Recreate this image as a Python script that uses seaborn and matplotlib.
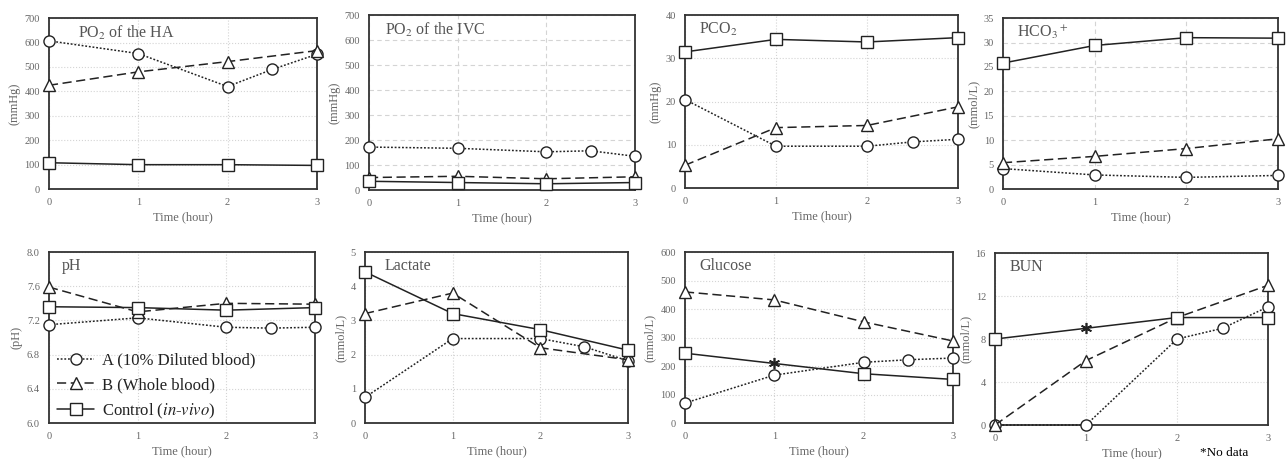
import numpy as np
import pandas as pd
import matplotlib
matplotlib.use("Agg")
import matplotlib.pyplot as plt
import seaborn as sns

# time points (A has an extra sample at 2.5 h)
time_a = [0, 1, 2, 2.5, 3]
time_bc = [0, 1, 2, 3]

# PO2 of the HA (mmHg)
ha_a = [607, 555, 420, 490, 552]
ha_b = [425, 480, 522, 567]
ha_c = [108, 100, 100, 97]

# PO2 of the IVC (mmHg)
ivc_a = [172, 167, 153, 157, 135]
ivc_b = [50, 55, 45, 53]
ivc_c = [35, 30, 25, 30]

# PCO2 (mmHg)
pco2_a = [20.5, 9.7, 9.7, 10.7, 11.3]
pco2_b = [5.3, 14.0, 14.5, 18.8]
pco2_c = [31.5, 34.4, 33.8, 34.8]

# HCO3+ (mmol/L) - no 2.5 h sample for A
hco3_a = [4.2, 2.9, 2.4, np.nan, 2.8]
hco3_b = [5.4, 6.7, 8.3, 10.3]
hco3_c = [25.8, 29.4, 31.0, 30.9]

# pH
ph_a = [7.15, 7.23, 7.12, 7.11, 7.12]
ph_b = [7.59, 7.30, 7.40, 7.39]
ph_c = [7.36, 7.35, 7.32, 7.35]

# Lactate (mmol/L)
lac_a = [0.75, 2.47, 2.47, 2.23, 1.82]
lac_b = [3.2, 3.8, 2.2, 1.85]
lac_c = [4.42, 3.2, 2.73, 2.13]

# Glucose (mmol/L) - control missing at 1 h (shown as *)
glu_a = [70, 168, 213, 222, 228]
glu_b = [460, 432, 355, 288]
glu_c = [245, np.nan, 173, 153]
glu_nodata = [1, 210]

# BUN (mmol/L) - control missing at 1 h (shown as *)
bun_a = [0, 0, 8, 9, 11]
bun_b = [0, 6, 10, 13]
bun_c = [8, np.nan, 10, 10]
bun_nodata = [1, 9]

panels = [
    ("PO$_2$ of the HA", "(mmHg)", ha_a, ha_b, ha_c, [0, 700], np.arange(0, 701, 100), "%d", None),
    ("PO$_2$ of the IVC", "(mmHg)", ivc_a, ivc_b, ivc_c, [0, 700], np.arange(0, 701, 100), "%d", None),
    ("PCO$_2$", "(mmHg)", pco2_a, pco2_b, pco2_c, [0, 40], np.arange(0, 41, 10), "%d", None),
    ("HCO$_3$$^+$", "(mmol/L)", hco3_a, hco3_b, hco3_c, [0, 35], np.arange(0, 36, 5), "%d", None),
    ("pH", "(pH)", ph_a, ph_b, ph_c, [6.0, 8.0], np.arange(6.0, 8.01, 0.4), "%.1f", None),
    ("Lactate", "(mmol/L)", lac_a, lac_b, lac_c, [0, 5], np.arange(0, 6, 1), "%d", None),
    ("Glucose", "(mmol/L)", glu_a, glu_b, glu_c, [0, 600], np.arange(0, 601, 100), "%d", glu_nodata),
    ("BUN", "(mmol/L)", bun_a, bun_b, bun_c, [0, 16], np.arange(0, 17, 4), "%d", bun_nodata),
]

positions = [
    [0.038, 0.588, 0.208, 0.3725],
    [0.2865, 0.586, 0.2065, 0.381],
    [0.5318, 0.590, 0.212, 0.377],
    [0.7787, 0.588, 0.2135, 0.3725],
    [0.038, 0.0784, 0.2065, 0.3725],
    [0.2834, 0.0784, 0.2042, 0.3725],
    [0.5318, 0.0784, 0.208, 0.3725],
    [0.7725, 0.074, 0.212, 0.3747],
]
title_x = [0.11, 0.06, 0.05, 0.05, 0.05, 0.075, 0.055, 0.055]
grid_ls = [':', (0, (4, 3)), ':', (0, (4, 3)), ':', ':', ':', ':']

sns.set_style("white")
plt.rcParams['font.family'] = ['Liberation Serif', 'DejaVu Serif']
plt.rcParams['mathtext.fontset'] = 'stix'

grey = '#666666'
line_col = '#222222'

fig = plt.figure(figsize=(12.88, 4.59), dpi=100)

series_style = [
    ("A (10% Diluted blood)", 'o', (0, (1.2, 1.2)), 8),
    ("B (Whole blood)", '^', (0, (6, 3)), 8.5),
    ("Control ($\\mathit{in}$-$\\mathit{vivo}$)", 's', '-', 8),
]

for i, (title, ylab, ya, yb, yc, ylim, yticks, fmt, nodata) in enumerate(panels):
    ax = fig.add_axes(positions[i])
    for (label, mk, ls, ms), xs, ys in zip(series_style, [time_a, time_bc, time_bc], [ya, yb, yc]):
        d = pd.DataFrame({'x': xs, 'y': ys}).dropna()
        sns.lineplot(data=d, x='x', y='y', ax=ax, color=line_col, linestyle=ls,
                     linewidth=1.1, marker=mk, markersize=ms,
                     markerfacecolor='white', markeredgecolor=line_col,
                     markeredgewidth=1.0, label=label, clip_on=False, zorder=3,
                     legend=(i == 4))
    if nodata is not None:
        ax.plot(nodata[0], nodata[1], marker=(6, 2, 0), color=line_col,
                markersize=8, markeredgewidth=1.2, linestyle='none', zorder=4)
    ax.set_xlim(0, 3)
    ax.set_ylim(ylim)
    ax.set_xticks([0, 1, 2, 3])
    ax.set_yticks(yticks)
    ax.set_yticklabels([fmt % v for v in yticks])
    ax.grid(True, color='#d4d4d4', linestyle=grid_ls[i], linewidth=0.8)
    ax.set_axisbelow(True)
    for s in ax.spines.values():
        s.set_visible(True)
        s.set_color('#333333')
        s.set_linewidth(1.3)
    ax.tick_params(axis='both', labelsize=7.5, colors=grey, length=3,
                   direction='out', width=0.8)
    ax.set_xlabel("Time (hour)", fontsize=9, color=grey, labelpad=3)
    ax.set_ylabel(ylab, fontsize=9, color=grey, labelpad=3)
    ax.text(title_x[i], 0.965, title, transform=ax.transAxes, fontsize=11.5,
            color='#555555', va='top', ha='left')
    if i == 4:
        leg = ax.legend(loc='lower left', frameon=False, fontsize=12,
                        handlelength=2.2, handletextpad=0.5, borderaxespad=0.1,
                        labelspacing=0.5, bbox_to_anchor=(0.0, -0.035))
        for t in leg.get_texts():
            t.set_color('#222222')

fig.text(0.932, 0.013, "*No data", fontsize=9.5, color='black', ha='left', va='center')

fig.savefig("out.png", dpi=100)
